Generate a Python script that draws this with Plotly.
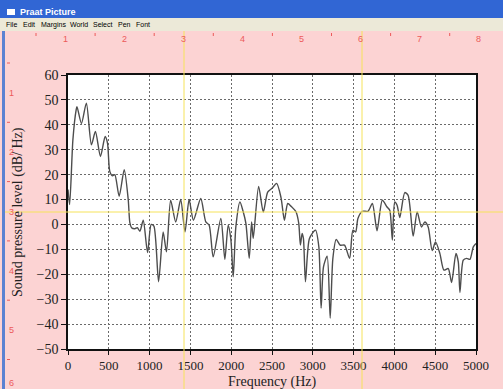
import plotly.graph_objects as go

# ---- data ----
freq_hz = [0, 20, 60, 100, 110, 165, 225, 287, 336, 398, 455, 484, 512, 545, 574, 627, 689, 738, 758, 779,
           820, 849, 881, 922, 975, 1020, 1053, 1110, 1166, 1207, 1258, 1320, 1381, 1434, 1484, 1537, 1627,
           1689, 1730, 1779, 1873, 1922, 1963, 1996, 2025, 2057, 2107, 2148, 2180, 2221, 2250, 2270, 2336,
           2393, 2447, 2500, 2557, 2611, 2652, 2693, 2734, 2795, 2828, 2848, 2869, 2885, 2910, 2959, 3033,
           3074, 3102, 3131, 3176, 3213, 3246, 3287, 3336, 3389, 3451, 3492, 3525, 3553, 3607, 3676, 3730,
           3787, 3852, 3910, 3943, 3975, 4004, 4033, 4066, 4127, 4168, 4230, 4279, 4332, 4373, 4414, 4463,
           4504, 4557, 4607, 4660, 4701, 4754, 4783, 4803, 4844, 4885, 4926, 4967, 5000]
spl_db = [14, 8, 34, 46, 47.3, 40.5, 48.7, 32, 37.3, 27.3, 35.3, 32.7, 21.3, 19.5, 20, 11.3, 22, 10, 0.7, -1.3,
          -1.7, -1.3, -2.7, 1.7, -11.3, 0, -0.7, -23, -3, -11, 9.7, 1, 10, -3, 10, 1.7, 10.4,
          1, -0.3, -13, 2.4, -14, -0.3, -6, -21, -1, 9, 5, 0.4, -13.6, 1, -5.6, 15.3,
          5, 13, 14.5, 16.5, 10.7, 1.7, 8.4, 7.3, 5, 0.4, -8.3, -3.6, -5.6, -23, -5.6, -2.3,
          -9, -33.6, -17, -12.7, -37.6, -13.6, -6, -8.3, -8.3, -13.6, -2.3, -3, 2.4, 5.3, 5.3, 8.4,
          -2.5, 9.7, 7, 5.7, -6.3, 9, 7.7, 2.8, 12.8, 11.7, -4.7, 5, -1, 1, -1, -10.5,
          -7, -11.6, -18.3, -17.7, -23.3, -11.6, -15, -27.3, -14.3, -13.6, -14, -9, -7.6]
x_ticks = [0, 500, 1000, 1500, 2000, 2500, 3000, 3500, 4000, 4500, 5000]
y_ticks = [-50, -40, -30, -20, -10, 0, 10, 20, 30, 40, 50, 60]
menu_items = ["File", "Edit", "Margins", "World", "Select", "Pen", "Font"]
ruler_top = ["1", "2", "3", "4", "5", "6", "7", "8"]
ruler_left = ["1", "2", "3", "4", "5", "6"]

W, H = 503, 389
L, R, T, B = 68, 476, 75, 349


def px(x):
    return (x - L) / (R - L)


def py(y):
    return (B - y) / (B - T)


PINK = "#fcd3d3"
RED = "#ec5a5a"
YEL = "#f6e35a"

fig = go.Figure()
fig.add_trace(go.Scatter(x=freq_hz, y=spl_db, mode="lines",
                         line=dict(color="#4d4d4d", width=1.4, shape="spline", smoothing=0.7),
                         hoverinfo="skip", showlegend=False))

shapes = []
# title bar and menu bar
shapes.append(dict(type="rect", xref="paper", yref="paper", x0=px(0), x1=px(W), y0=py(0), y1=py(18),
                   fillcolor="#3166d4", line=dict(width=0), layer="above"))
shapes.append(dict(type="rect", xref="paper", yref="paper", x0=px(0), x1=px(W), y0=py(18), y1=py(31),
                   fillcolor="#ece9d8", line=dict(width=0), layer="above"))
shapes.append(dict(type="rect", xref="paper", yref="paper", x0=px(7), x1=px(15), y0=py(9), y1=py(15),
                   fillcolor="white", line=dict(width=0), layer="above"))
# left window frame
shapes.append(dict(type="rect", xref="paper", yref="paper", x0=px(2), x1=px(5), y0=py(31), y1=py(H),
                   fillcolor="#5b82d2", line=dict(width=0), layer="above"))
# ruler ticks
for i in range(8):
    xx = 36 + i * 59.1
    shapes.append(dict(type="line", xref="paper", yref="paper", x0=px(xx), x1=px(xx), y0=py(33), y1=py(36),
                       line=dict(color=RED, width=1), layer="above"))
for i in range(6):
    yy = 63 + i * 59.3
    shapes.append(dict(type="line", xref="paper", yref="paper", x0=px(7), x1=px(10), y0=py(yy), y1=py(yy),
                       line=dict(color=RED, width=1), layer="above"))
# yellow cursor lines
for xx in (184, 362):
    shapes.append(dict(type="line", xref="paper", yref="paper", x0=px(xx), x1=px(xx), y0=py(31), y1=py(H),
                       line=dict(color=YEL, width=1), layer="above"))
shapes.append(dict(type="line", xref="paper", yref="paper", x0=px(5), x1=px(W), y0=py(212), y1=py(212),
                   line=dict(color=YEL, width=1), layer="above"))

ann = []
ann.append(dict(text="<b>Praat Picture</b>", x=px(18), y=py(12), xref="paper", yref="paper",
                xanchor="left", yanchor="middle", showarrow=False,
                font=dict(family="Liberation Sans", size=9, color="white")))
menu_x = [12, 29, 53, 79, 103, 124, 143]
for name, mx in zip(menu_items, menu_x):
    ann.append(dict(text=name, x=px(mx), y=py(25), xref="paper", yref="paper", xanchor="center",
                    yanchor="middle", showarrow=False,
                    font=dict(family="Liberation Sans", size=7, color="black")))
for i, t in enumerate(ruler_top):
    ann.append(dict(text=t, x=px(65 + i * 59.1), y=py(39), xref="paper", yref="paper", xanchor="center",
                    yanchor="middle", showarrow=False, font=dict(family="Liberation Sans", size=9, color=RED)))
for i, t in enumerate(ruler_left):
    ann.append(dict(text=t, x=px(12), y=py(min(93 + i * 59.3, 383)), xref="paper", yref="paper",
                    xanchor="center", yanchor="middle", showarrow=False,
                    font=dict(family="Liberation Sans", size=9, color=RED)))
ann.append(dict(text="Frequency (Hz)", x=px(272), y=py(382), xref="paper", yref="paper", xanchor="center",
                yanchor="middle", showarrow=False, font=dict(family="Liberation Serif", size=14, color="#222")))
ann.append(dict(text="Sound pressure level (dB/ Hz)", x=px(18), y=py(212), xref="paper", yref="paper",
                xanchor="center", yanchor="middle", textangle=-90, showarrow=False,
                font=dict(family="Liberation Serif", size=14, color="#222")))

axis_common = dict(showline=True, mirror=True, linecolor="#111", linewidth=1.5, ticks="outside",
                   tickcolor="#111", showgrid=True, gridcolor="#6a6a6a", griddash="2px,2px",
                   gridwidth=1, zeroline=False)

fig.update_layout(
    width=W, height=H, margin=dict(l=L, r=W - R, t=T, b=H - B),
    paper_bgcolor=PINK, plot_bgcolor="white",
    xaxis=dict(range=[0, 5000], tickvals=x_ticks, ticklen=4,
               tickfont=dict(family="Liberation Serif", size=13, color="#222"), **axis_common),
    yaxis=dict(range=[-50, 60], tickvals=y_ticks, ticklen=5,
               tickfont=dict(family="Liberation Serif", size=14, color="#222"), **axis_common),
    shapes=shapes, annotations=ann, showlegend=False,
)
fig.write_html("out.html")
